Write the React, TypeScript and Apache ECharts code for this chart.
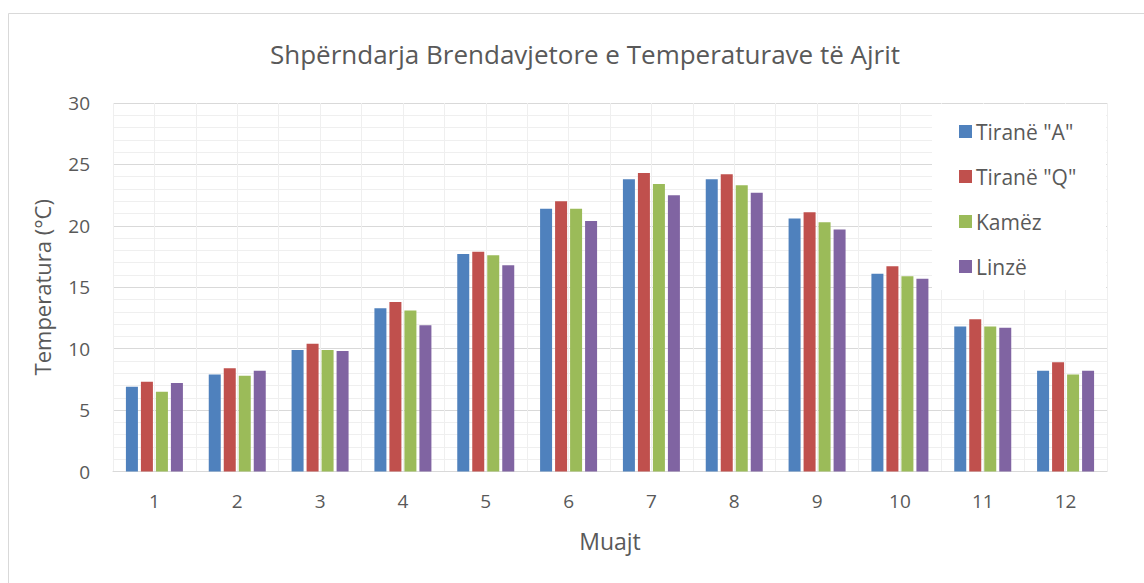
import React, { useEffect, useRef } from "react";
import * as echarts from "echarts";

const months = ["1", "2", "3", "4", "5", "6", "7", "8", "9", "10", "11", "12"];
const tiranaA = [6.9, 7.9, 9.9, 13.3, 17.7, 21.4, 23.8, 23.8, 20.6, 16.1, 11.8, 8.2];
const tiranaQ = [7.3, 8.4, 10.4, 13.8, 17.9, 22.0, 24.3, 24.2, 21.1, 16.7, 12.4, 8.9];
const kamez = [6.5, 7.8, 9.9, 13.1, 17.6, 21.4, 23.4, 23.3, 20.3, 15.9, 11.8, 7.9];
const linze = [7.2, 8.2, 9.8, 11.9, 16.8, 20.4, 22.5, 22.7, 19.7, 15.7, 11.7, 8.2];
const seriesNames = ['Tiranë "A"', 'Tiranë "Q"', "Kamëz", "Linzë"];
const colors = ["#4F81BD", "#C0504D", "#9BBB59", "#8064A2"];

const FONT = "'Open Sans', 'Noto Sans', sans-serif";
const TEXT = "#595959";

export default function App() {
  const ref = useRef<HTMLDivElement>(null);
  useEffect(() => {
    if (!ref.current) return;
    const chart = echarts.init(ref.current, null, { renderer: "svg" });
    const data = [tiranaA, tiranaQ, kamez, linze];
    chart.setOption({
      animation: false,
      backgroundColor: "#ffffff",
      textStyle: { fontFamily: FONT },
      title: {
        text: "Shpërndarja Brendavjetore e Temperaturave të Ajrit",
        left: 580,
        textAlign: "center",
        top: 36,
        textStyle: { fontFamily: FONT, fontSize: 26, fontWeight: "normal", color: TEXT },
      },
      graphic: [
        {
          type: "rect",
          shape: { x: 8.5, y: 13.5, width: 1160, height: 600 },
          style: { fill: "none", stroke: "#d9d9d9", lineWidth: 1 },
          silent: true,
          z: 0,
        },
        {
          type: "rect",
          shape: { x: 932, y: 104, width: 174, height: 186 },
          style: { fill: "#ffffff" },
          silent: true,
          z: 5,
        },
      ],
      legend: {
        orient: "vertical",
        left: 954,
        top: 116,
        itemWidth: 13,
        itemHeight: 13,
        itemGap: 24,
        icon: "rect",
        z: 10,
        textStyle: { fontFamily: FONT, fontSize: 21, color: TEXT, padding: [0, 0, 0, -1] },
        data: seriesNames,
      },
      grid: { left: 113, right: 37, top: 103, bottom: 111.5, containLabel: false },
      xAxis: [
        {
          type: "category",
          data: months,
          name: "Muajt",
          nameLocation: "middle",
          nameGap: 58,
          nameTextStyle: { fontFamily: FONT, fontSize: 23, color: TEXT },
          axisLine: { show: true, lineStyle: { color: "#d9d9d9", width: 1 } },
          axisTick: { show: false },
          axisLabel: { fontFamily: FONT, fontSize: 19, color: TEXT, margin: 20 },
          splitLine: { show: false },
        },
        {
          type: "value",
          min: 0,
          max: 24,
          interval: 1,
          show: true,
          position: "bottom",
          axisLine: { show: false },
          axisTick: { show: false },
          axisLabel: { show: false },
          splitLine: { show: true, lineStyle: { color: "#efefef", width: 1 } },
        },
      ],
      yAxis: {
        type: "value",
        min: 0,
        max: 30,
        interval: 5,
        name: "Temperatura (°C)",
        nameLocation: "middle",
        nameGap: 60,
        nameRotate: 90,
        nameTextStyle: { fontFamily: FONT, fontSize: 22, color: TEXT },
        axisLine: { show: false },
        axisTick: { show: false },
        axisLabel: { fontFamily: FONT, fontSize: 19, color: TEXT, margin: 23 },
        splitLine: { show: true, lineStyle: { color: "#d9d9d9", width: 1 } },
        minorTick: { show: false, splitNumber: 5 },
        minorSplitLine: { show: true, lineStyle: { color: "#efefef", width: 1 } },
      },
      series: seriesNames.map((name, i) => ({
        name,
        type: "bar",
        xAxisIndex: 0,
        data: data[i],
        barWidth: 12,
        barGap: "25%",
        itemStyle: { color: colors[i] },
        z: 2,
      })),
    });
    return () => chart.dispose();
  }, []);
  return (
    <div
      ref={ref}
      style={{ position: "absolute", left: 0, top: 0, width: 1144, height: 583 }}
    />
  );
}
